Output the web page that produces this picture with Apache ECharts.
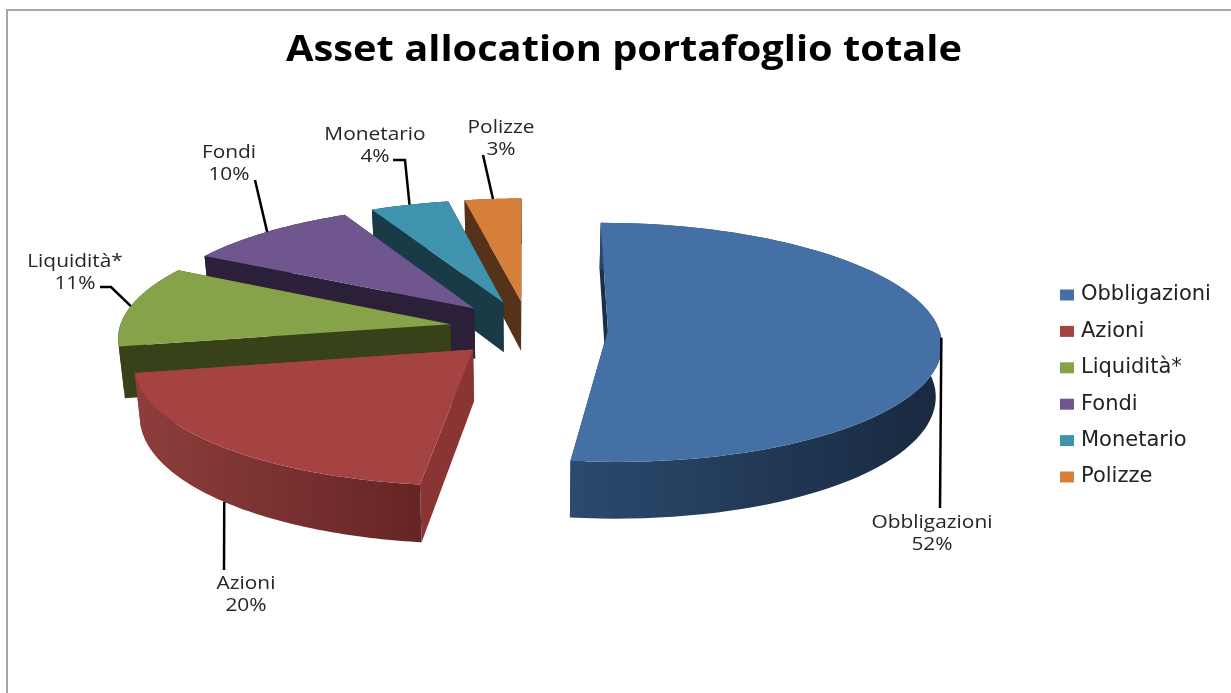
<!DOCTYPE html>
<html lang="en">

<head>
  <meta charset="UTF-8">
  <title>Asset allocation portafoglio totale</title>
  <style media="screen">
    html, body { margin: 0; padding: 0; background: #fff; }
  </style>
</head>

<body>
  <div id="main" style="width:1231px;height:693px;"></div>
</body>
<script src="https://cdn.jsdelivr.net/npm/echarts@6/dist/echarts.min.js"></script>

<script>
  var chartTitle = 'Asset allocation portafoglio totale';
  var categories = ['Obbligazioni', 'Azioni', 'Liquidità*', 'Fondi', 'Monetario', 'Polizze'];
  var values = [52, 20, 11, 9.6, 4.3, 3.1];

  // styles, same order as categories
  var topColors = ['#4570a6', '#a54342', '#87a34a', '#70568e', '#3f93ae', '#d67f39'];
  var cutColors = ['#1a2f4a', '#893533', '#384218', '#2b1f39', '#183b47', '#57321a'];
  var arcLeftColors = ['#2b4a6f', '#8e3e3c', '#384218', '#2b1f39', '#183b47', '#57321a'];
  var arcRightColors = ['#18293f', '#652524', '#384218', '#2b1f39', '#183b47', '#57321a'];
  var drawOrder = [6, 5, 4, 3, 2, 1];

  // label centres and leader line ends, in page pixels
  var labelX = [932, 246, 75, 229, 375, 501];
  var labelY = [534, 595, 273, 164, 146, 139];
  var leaderEnds = [
    [[940, 508]],
    [[224, 570]],
    [[111, 287], [100, 287]],
    [[255, 180]],
    [[405, 160], [393, 160]],
    [[483, 155]]
  ];

  // pie projection
  var cx = 528.5, cy = 328.6, rx = 331, ry = 118;
  var explode = 0.24, perspective = 0.1, depth = 51, shrink = 0.985;

  var total = values.reduce(function (a, b) { return a + b; }, 0);

  function project(u, v, lower) {
    var s = 1 / (1 - perspective * v);
    var x = cx + rx * u * s;
    var y = cy + ry * v * s;
    if (lower) {
      x = cx + (x - cx) * shrink;
      y += depth * s;
    }
    return [x, y];
  }

  // point of a slice: r = 0 apex, r = 1 rim, angle clockwise from 12 o'clock
  function slicePoint(bisector, angle, r, lower) {
    var u = explode * Math.sin(bisector) + r * Math.sin(angle);
    var v = -explode * Math.cos(bisector) - r * Math.cos(angle);
    return project(u, v, lower);
  }

  function renderSlice(params, api) {
    var i = params.seriesIndex;
    var before = 0;
    for (var k = 0; k < i; k++) before += values[k];
    var a0 = before / total * Math.PI * 2;
    var a1 = (before + api.value(0)) / total * Math.PI * 2;
    var mid = (a0 + a1) / 2;

    var topPts = [slicePoint(mid, 0, 0, false)];
    var upper = [], lower = [];
    var steps = 80;
    for (var n = 0; n <= steps; n++) {
      var a = a0 + (a1 - a0) * n / steps;
      upper.push(slicePoint(mid, a, 1, false));
      lower.push(slicePoint(mid, a, 1, true));
    }
    topPts = topPts.concat(upper);

    var apexTop = slicePoint(mid, 0, 0, false);
    var apexLow = slicePoint(mid, 0, 0, true);

    var children = [];
    function poly(points, fill) {
      children.push({
        type: 'polygon',
        shape: { points: points },
        style: { fill: fill, stroke: null }
      });
    }

    // cut walls, then curved wall, then top face
    poly([apexTop, upper[steps], lower[steps], apexLow], cutColors[i]);
    poly([apexTop, upper[0], lower[0], apexLow], cutColors[i]);
    poly(upper.concat(lower.slice().reverse()), new echarts.graphic.LinearGradient(0, 0, 1, 0, [
      { offset: 0, color: arcLeftColors[i] },
      { offset: 1, color: arcRightColors[i] }
    ]));
    poly(topPts, topColors[i]);

    // leader line starts on the rim, or under the wall for slices facing the viewer
    var start = slicePoint(mid, mid, 1, -Math.cos(mid) > 0.3);
    children.push({
      type: 'polyline',
      shape: { points: [start].concat(leaderEnds[i]) },
      style: { stroke: '#000', lineWidth: 2.5, fill: null }
    });
    // the reference is stretched sideways, so the text is too
    children.push({
      type: 'text',
      x: labelX[i],
      y: labelY[i],
      scaleX: 1.16,
      style: {
        text: categories[i] + '\n' + Math.round(api.value(0) / total * 100) + '%',
        x: 0,
        y: 0,
        align: 'center',
        verticalAlign: 'middle',
        fill: '#262626',
        font: '18px "Open Sans"',
        lineHeight: 22
      }
    });

    return { type: 'group', children: children };
  }

  var myChart = echarts.init(document.getElementById('main'));

  myChart.setOption({
    backgroundColor: '#fff',
    animation: false,
    legend: {
      data: categories,
      orient: 'vertical',
      left: 1055,
      top: 277,
      itemWidth: 14,
      itemHeight: 11,
      itemGap: 10.4,
      icon: 'rect',
      selectedMode: false,
      textStyle: {
        color: '#222',
        fontFamily: 'DejaVu Sans',
        fontSize: 21,
        lineHeight: 26,
        padding: [0, 0, 0, 2]
      }
    },
    graphic: [{
      type: 'rect',
      silent: true,
      shape: { x: 7, y: 10, width: 1400, height: 900 },
      style: { fill: null, stroke: '#a6a6a6', lineWidth: 2 }
    }, {
      type: 'text',
      silent: true,
      x: 624,
      y: 51,
      scaleX: 1.105,
      style: {
        text: chartTitle,
        x: 0,
        y: 0,
        align: 'center',
        verticalAlign: 'middle',
        fill: '#000',
        font: 'bold 36px "Open Sans"'
      }
    }],
    series: categories.map(function (name, i) {
      return {
        type: 'custom',
        name: name,
        coordinateSystem: 'none',
        silent: true,
        z: drawOrder[i],
        itemStyle: { color: topColors[i] },
        renderItem: renderSlice,
        data: [[values[i]]]
      };
    })
  });
</script>

</html>
